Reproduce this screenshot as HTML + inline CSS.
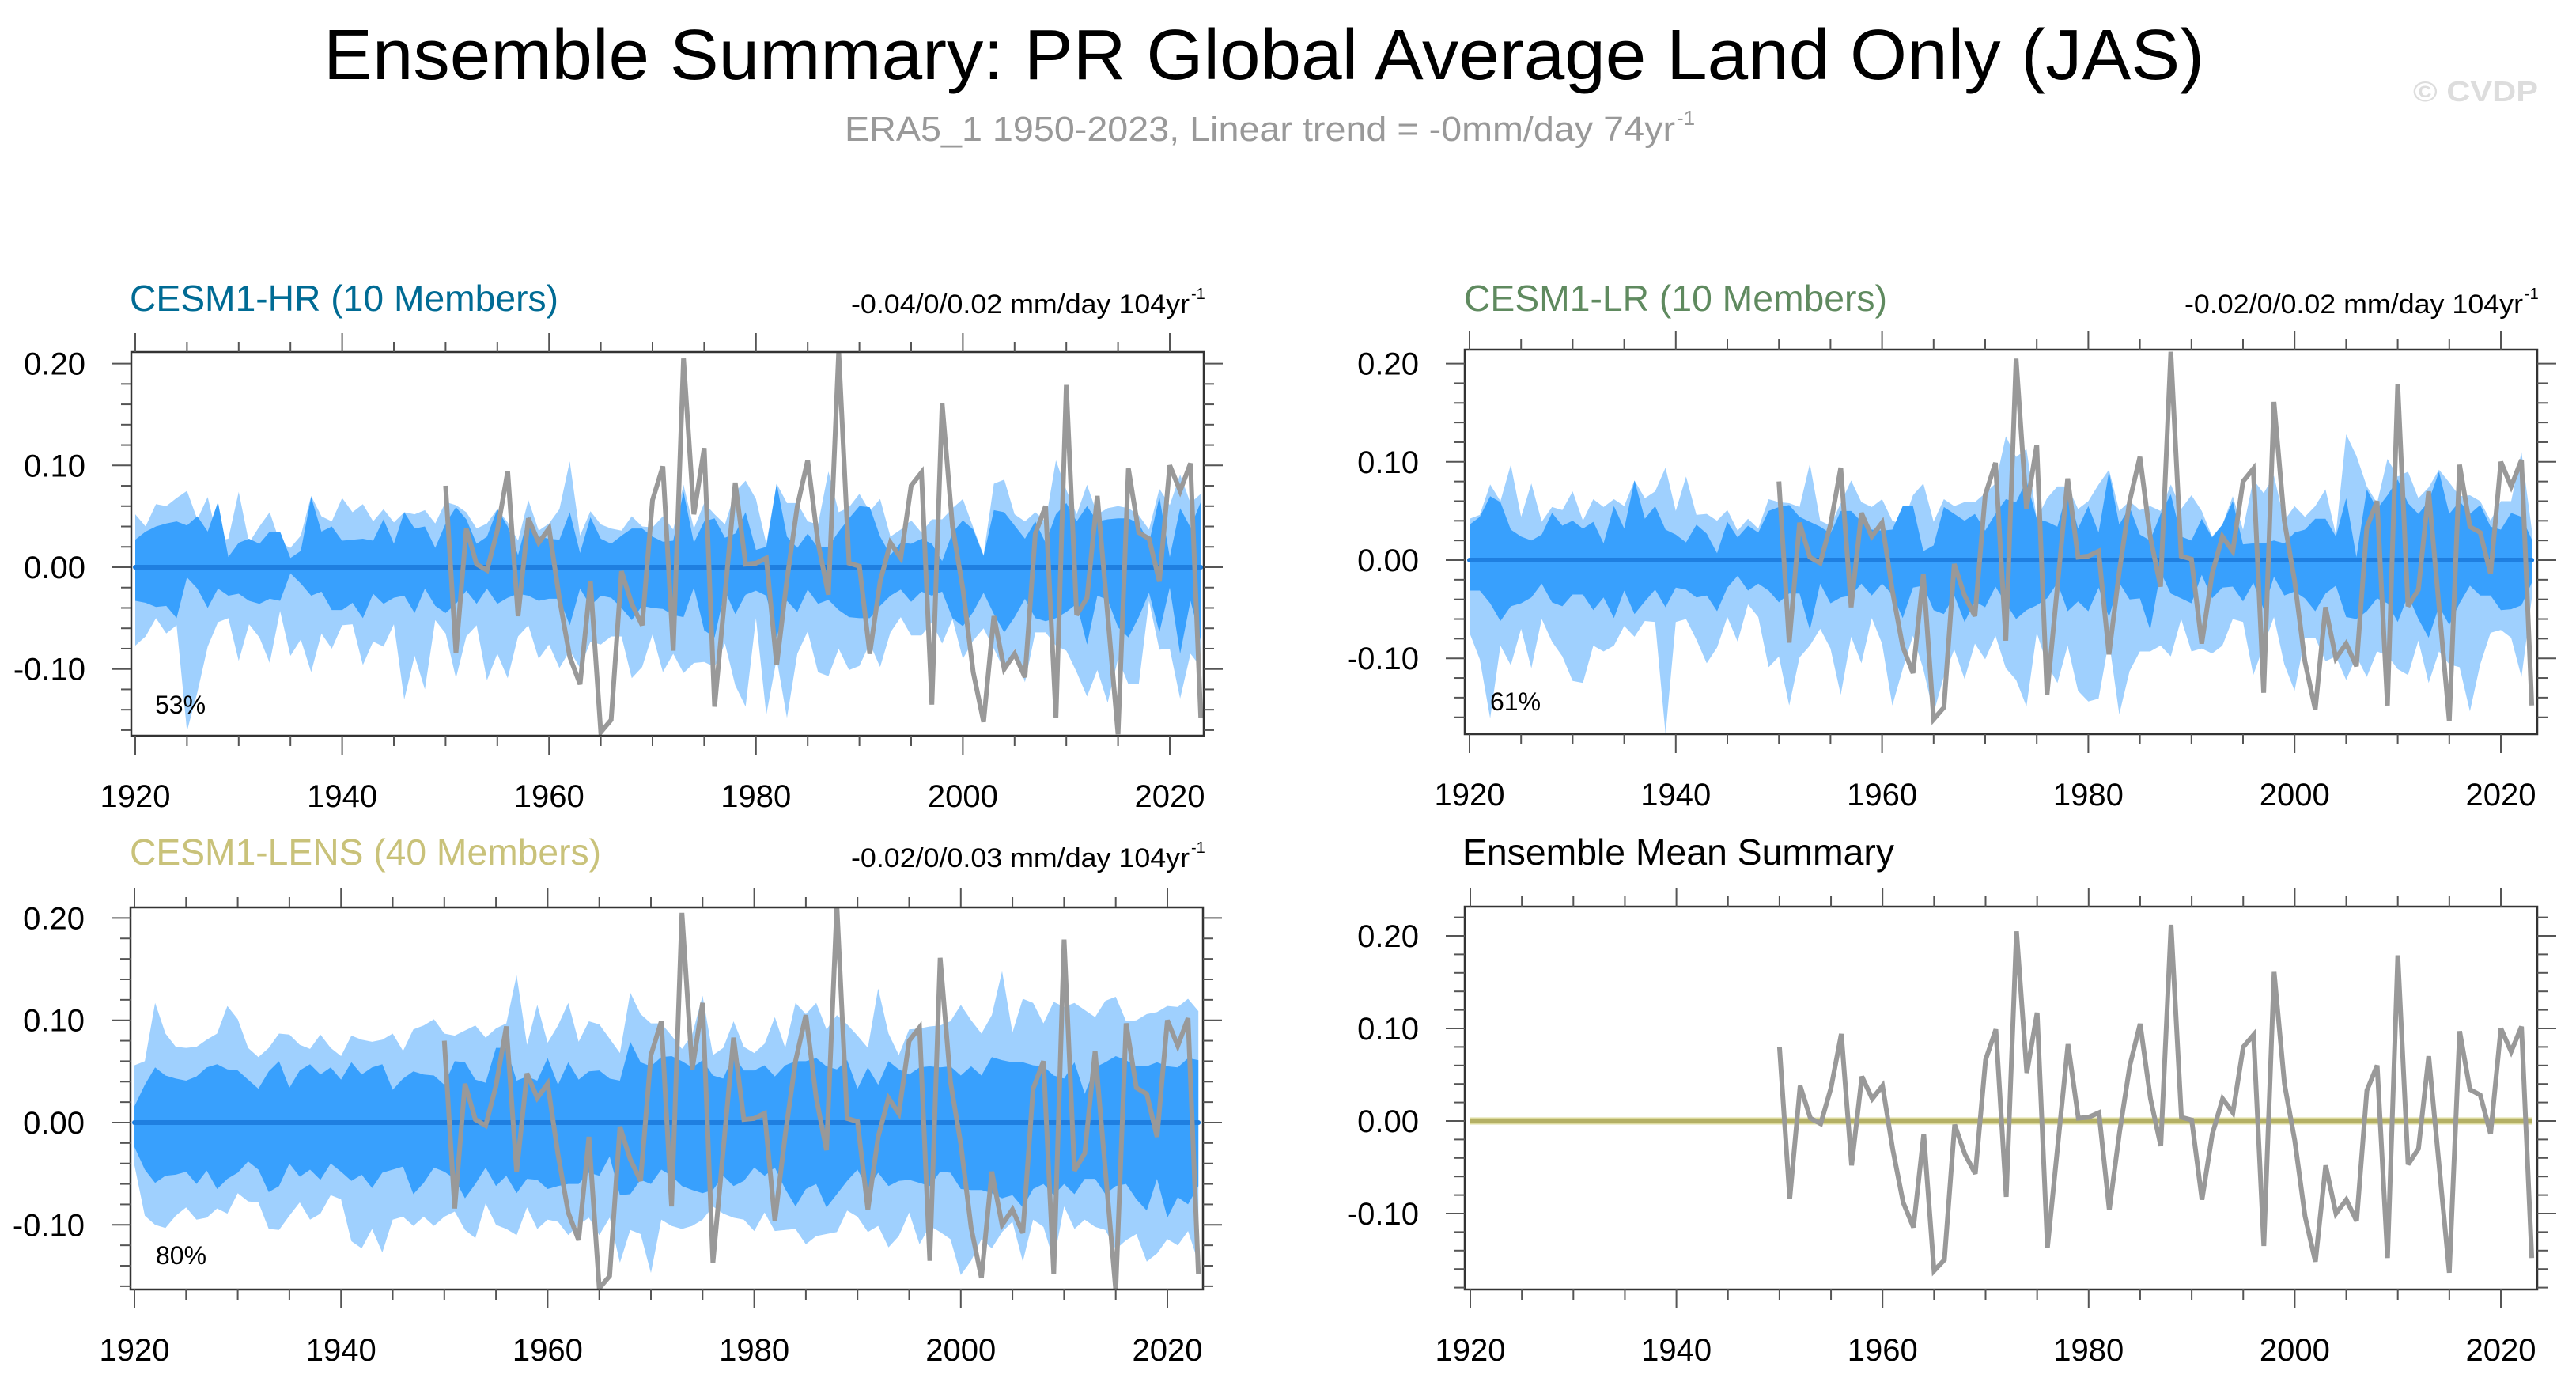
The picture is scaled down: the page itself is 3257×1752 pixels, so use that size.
<!DOCTYPE html>
<html><head><meta charset="utf-8"><title>Ensemble Summary</title>
<style>
html,body{margin:0;padding:0;background:#fff;}
svg{display:block;font-family:"Liberation Sans",Arial,sans-serif;}
</style></head>
<body>
<svg id="chart" width="3257" height="1752" viewBox="0 0 3257 1752" xmlns="http://www.w3.org/2000/svg">
<rect width="3257" height="1752" fill="#fff"/>
<text x="1598" y="100" font-size="90" text-anchor="middle" textLength="2378" lengthAdjust="spacingAndGlyphs" fill="#000">Ensemble Summary: PR Global Average Land Only (JAS)</text>
<text x="1068" y="178" font-size="44" fill="#999" textLength="1050" lengthAdjust="spacingAndGlyphs">ERA5_1 1950-2023, Linear trend = -0mm/day 74yr</text>
<text x="2120" y="158" font-size="26" fill="#999">-1</text>
<text x="3051" y="128" font-size="36" font-weight="bold" fill="#ddd" textLength="158" lengthAdjust="spacingAndGlyphs">© CVDP</text>

<text x="164" y="393" font-size="46" fill="#006b94" textLength="542" lengthAdjust="spacingAndGlyphs">CESM1-HR (10 Members)</text>
<text x="1076" y="396" font-size="34" fill="#000" textLength="428" lengthAdjust="spacingAndGlyphs">-0.04/0/0.02 mm/day 104yr</text>
<text x="1506" y="378" font-size="20" fill="#000">-1</text>

<text x="1851" y="393" font-size="46" fill="#5f8a5f" textLength="535" lengthAdjust="spacingAndGlyphs">CESM1-LR (10 Members)</text>
<text x="2762" y="396" font-size="34" fill="#000" textLength="428" lengthAdjust="spacingAndGlyphs">-0.02/0/0.02 mm/day 104yr</text>
<text x="3192" y="378" font-size="20" fill="#000">-1</text>

<text x="164" y="1093" font-size="46" fill="#c9c27a" textLength="596" lengthAdjust="spacingAndGlyphs">CESM1-LENS (40 Members)</text>
<text x="1076" y="1096" font-size="34" fill="#000" textLength="428" lengthAdjust="spacingAndGlyphs">-0.02/0/0.03 mm/day 104yr</text>
<text x="1506" y="1078" font-size="20" fill="#000">-1</text>

<text x="1849" y="1093" font-size="46" fill="#000" textLength="546" lengthAdjust="spacingAndGlyphs">Ensemble Mean Summary</text>

<g id="plots"></g>
</svg>
<script>
const startYear = 1920;
const obsStartYear = 1950;
const xTickLabels = ["1920","1940","1960","1980","2000","2020"];
const yTickLabels = ["0.20","0.10","0.00","-0.10"];
const yTickValues = [0.20, 0.10, 0.00, -0.10];
const pctLabels = ["53%","61%","80%"];
const meanValues = [0.0, 0.0];

const obs = [0.080,-0.084,0.038,0.003,-0.003,0.036,0.094,-0.048,0.048,0.024,
0.038,-0.031,-0.088,-0.115,-0.014,-0.162,-0.150,-0.004,-0.036,-0.057,
0.066,0.099,-0.082,0.205,0.052,0.117,-0.137,-0.027,0.083,0.003,
0.004,0.009,-0.096,-0.012,0.060,0.105,0.024,-0.027,0.212,0.004,
0.001,-0.085,-0.014,0.024,0.009,0.080,0.093,-0.135,0.161,0.040,
-0.021,-0.103,-0.152,-0.048,-0.100,-0.085,-0.108,0.033,0.060,-0.148,
0.179,-0.047,-0.030,0.070,-0.047,-0.164,0.097,0.034,0.028,-0.014,
0.100,0.075,0.102,-0.148];

const hrOutUp = [0.052,0.040,0.062,0.060,0.068,0.075,0.047,0.069,0.026,0.028,
0.074,0.024,0.040,0.054,0.024,0.019,0.031,0.070,0.050,0.045,
0.068,0.054,0.062,0.045,0.057,0.044,0.054,0.052,0.056,0.043,
0.064,0.061,0.054,0.038,0.043,0.057,0.044,0.026,0.066,0.036,
0.043,0.057,0.104,0.031,0.055,0.042,0.038,0.036,0.050,0.040,
0.039,0.050,0.037,0.081,0.038,0.063,0.052,0.042,0.074,0.085,
0.067,0.023,0.082,0.063,0.063,0.045,0.042,0.094,0.054,0.059,
0.072,0.055,0.067,0.030,0.037,0.046,0.034,0.047,0.047,0.058,
0.067,0.039,0.012,0.082,0.086,0.052,0.045,0.054,0.045,0.105,
0.076,0.052,0.081,0.052,0.058,0.060,0.058,0.051,0.037,0.077,
0.061,0.091,0.063,0.072];
const hrInUp = [0.027,0.035,0.040,0.043,0.045,0.041,0.050,0.035,0.064,0.010,
0.024,0.028,0.023,0.035,0.035,0.009,0.016,0.069,0.035,0.040,
0.026,0.027,0.028,0.026,0.047,0.023,0.054,0.038,0.040,0.019,
0.043,0.059,0.047,0.023,0.030,0.057,0.040,0.012,0.050,0.030,
0.028,0.027,0.054,0.014,0.049,0.028,0.023,0.031,0.038,0.038,
0.030,0.025,0.026,0.074,0.024,0.045,0.048,0.029,0.033,0.054,
0.017,0.020,0.082,0.030,0.019,0.033,0.019,0.020,0.035,0.048,
0.060,0.059,0.030,0.012,0.024,0.023,0.028,0.023,0.006,0.034,
0.046,0.037,0.011,0.056,0.054,0.041,0.028,0.045,0.024,0.052,
0.063,0.045,0.060,0.045,0.047,0.048,0.048,0.043,0.024,0.069,
0.010,0.058,0.039,0.064];
const hrInLo = [-0.033,-0.035,-0.039,-0.038,-0.050,-0.010,-0.021,-0.040,-0.021,-0.028,
-0.026,-0.033,-0.036,-0.031,-0.033,-0.006,-0.016,-0.028,-0.024,-0.042,
-0.042,-0.035,-0.050,-0.026,-0.036,-0.030,-0.028,-0.045,-0.021,-0.038,
-0.045,-0.036,-0.023,-0.036,-0.021,-0.036,-0.030,-0.026,-0.028,-0.033,
-0.031,-0.031,-0.057,-0.021,-0.038,-0.028,-0.030,-0.040,-0.052,-0.038,
-0.040,-0.041,-0.047,-0.049,-0.020,-0.062,-0.069,-0.023,-0.046,-0.027,
-0.023,-0.028,-0.069,-0.033,-0.044,-0.022,-0.036,-0.032,-0.042,-0.049,
-0.050,-0.050,-0.038,-0.028,-0.022,-0.034,-0.024,-0.028,-0.024,-0.050,
-0.058,-0.044,-0.025,-0.046,-0.064,-0.049,-0.031,-0.050,-0.053,-0.050,
-0.044,-0.036,-0.076,-0.028,-0.032,-0.059,-0.069,-0.049,-0.025,-0.064,
-0.020,-0.085,-0.033,-0.072];
const hrOutLo = [-0.077,-0.068,-0.050,-0.065,-0.057,-0.161,-0.123,-0.078,-0.054,-0.050,
-0.092,-0.056,-0.069,-0.094,-0.043,-0.087,-0.071,-0.103,-0.065,-0.080,
-0.057,-0.056,-0.096,-0.073,-0.078,-0.056,-0.130,-0.087,-0.120,-0.052,
-0.065,-0.109,-0.068,-0.057,-0.111,-0.085,-0.109,-0.068,-0.057,-0.090,
-0.076,-0.099,-0.082,-0.099,-0.073,-0.076,-0.068,-0.068,-0.109,-0.098,
-0.066,-0.103,-0.085,-0.104,-0.094,-0.093,-0.098,-0.075,-0.116,-0.137,
-0.050,-0.145,-0.090,-0.148,-0.085,-0.063,-0.103,-0.107,-0.080,-0.101,
-0.097,-0.075,-0.098,-0.064,-0.049,-0.067,-0.067,-0.054,-0.075,-0.051,
-0.090,-0.072,-0.060,-0.080,-0.101,-0.080,-0.113,-0.064,-0.064,-0.077,
-0.082,-0.103,-0.127,-0.101,-0.133,-0.090,-0.115,-0.115,-0.033,-0.081,
-0.080,-0.129,-0.085,-0.098];

const lrOutUp = [0.042,0.046,0.077,0.060,0.097,0.044,0.078,0.039,0.054,0.051,
0.070,0.040,0.062,0.054,0.062,0.055,0.081,0.063,0.070,0.094,
0.050,0.085,0.046,0.047,0.040,0.051,0.030,0.042,0.032,0.062,
0.059,0.058,0.054,0.098,0.040,0.035,0.058,0.081,0.059,0.054,
0.062,0.040,0.036,0.066,0.078,0.039,0.062,0.055,0.059,0.059,
0.068,0.078,0.126,0.105,0.113,0.042,0.063,0.075,0.075,0.052,
0.060,0.077,0.092,0.050,0.060,0.051,0.055,0.050,0.077,0.052,
0.066,0.050,0.024,0.036,0.065,0.031,0.082,0.068,0.086,0.040,
0.055,0.044,0.055,0.072,0.026,0.128,0.106,0.075,0.058,0.103,
0.085,0.090,0.063,0.074,0.092,0.079,0.065,0.066,0.060,0.040,
0.060,0.060,0.110,0.031];
const lrInUp = [0.036,0.044,0.065,0.059,0.031,0.024,0.020,0.026,0.048,0.035,
0.040,0.032,0.039,0.017,0.055,0.032,0.081,0.042,0.055,0.031,
0.026,0.018,0.036,0.027,0.007,0.039,0.023,0.035,0.028,0.050,
0.054,0.056,0.044,0.039,0.034,0.027,0.050,0.050,0.039,0.031,
0.030,0.031,0.055,0.055,0.009,0.015,0.054,0.047,0.040,0.047,
0.030,0.047,0.062,0.059,0.081,0.042,0.039,0.034,0.072,0.032,
0.055,0.028,0.090,0.036,0.054,0.026,0.020,0.047,0.067,0.024,
0.020,0.042,0.023,0.036,0.060,0.016,0.017,0.017,0.020,0.017,
0.028,0.031,0.042,0.042,0.024,0.063,0.003,0.072,0.052,0.066,
0.082,0.058,0.047,0.060,0.090,0.047,0.060,0.047,0.056,0.034,
0.031,0.048,0.044,0.021];
const lrInLo = [-0.031,-0.031,-0.044,-0.062,-0.047,-0.044,-0.038,-0.024,-0.043,-0.047,
-0.035,-0.035,-0.051,-0.038,-0.059,-0.031,-0.055,-0.042,-0.030,-0.048,
-0.028,-0.030,-0.038,-0.036,-0.052,-0.028,-0.016,-0.031,-0.024,-0.031,
-0.043,-0.034,-0.034,-0.071,-0.024,-0.044,-0.038,-0.036,-0.024,-0.036,
-0.024,-0.035,-0.059,-0.028,-0.026,-0.051,-0.055,-0.036,-0.063,-0.042,
-0.048,-0.027,-0.044,-0.060,-0.051,-0.046,-0.039,-0.023,-0.052,-0.042,
-0.052,-0.028,-0.058,-0.023,-0.040,-0.039,-0.071,-0.012,-0.034,-0.039,
-0.044,-0.015,-0.039,-0.028,-0.027,-0.042,-0.023,-0.050,-0.017,-0.036,
-0.032,-0.039,-0.052,-0.034,-0.026,-0.058,-0.060,-0.052,-0.039,-0.044,
-0.063,-0.036,-0.060,-0.079,-0.047,-0.066,-0.044,-0.026,-0.036,-0.036,
-0.051,-0.050,-0.046,-0.023];
const lrOutLo = [-0.074,-0.101,-0.161,-0.087,-0.107,-0.070,-0.110,-0.060,-0.083,-0.098,
-0.123,-0.125,-0.087,-0.093,-0.087,-0.067,-0.078,-0.062,-0.063,-0.177,
-0.063,-0.060,-0.081,-0.105,-0.089,-0.058,-0.083,-0.045,-0.058,-0.109,
-0.098,-0.148,-0.099,-0.087,-0.070,-0.090,-0.137,-0.078,-0.105,-0.059,
-0.085,-0.148,-0.111,-0.077,-0.111,-0.156,-0.118,-0.091,-0.121,-0.085,
-0.101,-0.077,-0.110,-0.122,-0.149,-0.074,-0.106,-0.125,-0.087,-0.133,
-0.144,-0.141,-0.082,-0.157,-0.113,-0.093,-0.093,-0.087,-0.098,-0.060,
-0.093,-0.090,-0.095,-0.087,-0.060,-0.063,-0.117,-0.087,-0.058,-0.106,
-0.133,-0.079,-0.079,-0.103,-0.098,-0.122,-0.098,-0.119,-0.093,-0.097,
-0.111,-0.117,-0.082,-0.125,-0.093,-0.106,-0.109,-0.154,-0.106,-0.074,
-0.071,-0.079,-0.119,-0.039];

const lensOutUp = [0.056,0.060,0.117,0.087,0.074,0.073,0.074,0.081,0.087,0.114,
0.101,0.073,0.064,0.073,0.087,0.086,0.076,0.072,0.086,0.073,
0.065,0.085,0.081,0.079,0.081,0.087,0.070,0.091,0.095,0.101,
0.087,0.085,0.090,0.095,0.083,0.092,0.097,0.144,0.076,0.115,
0.078,0.095,0.117,0.079,0.099,0.096,0.082,0.068,0.127,0.106,
0.097,0.097,0.085,0.072,0.086,0.124,0.066,0.073,0.099,0.074,
0.068,0.077,0.103,0.073,0.117,0.106,0.117,0.091,0.105,0.096,
0.085,0.073,0.131,0.087,0.066,0.091,0.092,0.094,0.095,0.099,
0.115,0.100,0.087,0.105,0.148,0.088,0.121,0.117,0.097,0.118,
0.113,0.117,0.110,0.103,0.119,0.123,0.099,0.100,0.106,0.108,
0.114,0.113,0.121,0.109];
const lensInUp = [0.016,0.037,0.054,0.046,0.043,0.041,0.045,0.054,0.057,0.052,
0.051,0.042,0.033,0.050,0.060,0.034,0.051,0.057,0.047,0.054,
0.042,0.059,0.047,0.054,0.057,0.032,0.043,0.050,0.047,0.046,
0.037,0.060,0.059,0.042,0.039,0.073,0.073,0.041,0.045,0.041,
0.063,0.037,0.059,0.042,0.050,0.051,0.043,0.041,0.079,0.059,
0.055,0.064,0.065,0.060,0.054,0.061,0.046,0.043,0.066,0.051,
0.051,0.056,0.045,0.056,0.060,0.060,0.063,0.055,0.052,0.061,
0.033,0.054,0.037,0.060,0.052,0.047,0.054,0.055,0.054,0.055,
0.046,0.055,0.046,0.064,0.061,0.059,0.059,0.056,0.055,0.046,
0.043,0.059,0.028,0.054,0.059,0.065,0.061,0.055,0.055,0.059,
0.055,0.054,0.063,0.061];
const lensInLo = [-0.024,-0.046,-0.059,-0.052,-0.051,-0.048,-0.060,-0.047,-0.065,-0.055,
-0.049,-0.038,-0.046,-0.068,-0.062,-0.040,-0.053,-0.046,-0.056,-0.040,
-0.048,-0.057,-0.051,-0.064,-0.049,-0.046,-0.043,-0.070,-0.059,-0.044,
-0.048,-0.055,-0.074,-0.060,-0.044,-0.062,-0.052,-0.069,-0.055,-0.056,
-0.065,-0.062,-0.060,-0.060,-0.049,-0.052,-0.033,-0.071,-0.070,-0.056,
-0.060,-0.046,-0.052,-0.062,-0.066,-0.069,-0.066,-0.052,-0.062,-0.057,
-0.044,-0.052,-0.044,-0.065,-0.082,-0.065,-0.060,-0.083,-0.070,-0.057,
-0.046,-0.065,-0.049,-0.062,-0.057,-0.056,-0.059,-0.062,-0.048,-0.049,
-0.065,-0.066,-0.066,-0.069,-0.074,-0.071,-0.083,-0.065,-0.060,-0.071,
-0.060,-0.070,-0.055,-0.055,-0.070,-0.062,-0.060,-0.075,-0.086,-0.055,
-0.093,-0.073,-0.080,-0.062];
const lensOutLo = [-0.042,-0.091,-0.100,-0.103,-0.091,-0.083,-0.095,-0.093,-0.084,-0.089,
-0.069,-0.077,-0.078,-0.104,-0.105,-0.091,-0.078,-0.095,-0.089,-0.071,
-0.075,-0.116,-0.123,-0.104,-0.127,-0.095,-0.092,-0.101,-0.092,-0.101,
-0.092,-0.087,-0.105,-0.113,-0.079,-0.100,-0.104,-0.110,-0.083,-0.104,
-0.095,-0.097,-0.110,-0.100,-0.093,-0.110,-0.093,-0.137,-0.105,-0.109,
-0.147,-0.095,-0.101,-0.104,-0.101,-0.095,-0.082,-0.089,-0.093,-0.095,
-0.106,-0.088,-0.106,-0.105,-0.104,-0.119,-0.111,-0.109,-0.107,-0.086,
-0.092,-0.107,-0.101,-0.122,-0.111,-0.088,-0.119,-0.101,-0.107,-0.114,
-0.149,-0.135,-0.114,-0.123,-0.107,-0.097,-0.136,-0.095,-0.102,-0.135,
-0.082,-0.104,-0.095,-0.102,-0.105,-0.124,-0.115,-0.109,-0.136,-0.128,
-0.114,-0.120,-0.106,-0.137];

const NS = "http://www.w3.org/2000/svg";
const root = document.getElementById("plots");
function mk(tag, attrs, parent) {
  const e = document.createElementNS(NS, tag);
  for (const k in attrs) e.setAttribute(k, attrs[k]);
  (parent || root).appendChild(e);
  return e;
}

const panels = [
  {key:"hr", x0:166, x1:1522, y0:445, y1:930, xa:171, xb:13.08, zero:717, scale:1287,
   bands:[hrOutUp,hrInUp,hrInLo,hrOutLo], pct:0, pctX:196, pctY:902},
  {key:"lr", x0:1852, x1:3208, y0:442, y1:928, xa:1858, xb:13.04, zero:708, scale:1242,
   bands:[lrOutUp,lrInUp,lrInLo,lrOutLo], pct:1, pctX:1884, pctY:898},
  {key:"lens", x0:165, x1:1521, y0:1147, y1:1630, xa:170, xb:13.06, zero:1419, scale:1293,
   bands:[lensOutUp,lensInUp,lensInLo,lensOutLo], pct:2, pctX:197, pctY:1598},
  {key:"mean", x0:1852, x1:3208, y0:1146, y1:1630, xa:1859, xb:13.03, zero:1417, scale:1170,
   bands:null}
];

panels.forEach(function(p){
  const xs = function(yr){ return p.xa + (yr - startYear) * p.xb; };
  const ys = function(v){ return p.zero - v * p.scale; };
  const g = mk("g", {});
  
  
  const clipId = "clip-" + p.key;
  const cp = mk("clipPath", {id: clipId}, g);
  mk("rect", {x:p.x0, y:p.y0, width:p.x1-p.x0, height:p.y1-p.y0}, cp);
  const pg = mk("g", {"clip-path":"url(#"+clipId+")"}, g);

  if (p.bands) {
    const outUp = p.bands[0], inUp = p.bands[1], inLo = p.bands[2], outLo = p.bands[3];
    function bandPath(up, lo) {
      let d = "";
      for (let i = 0; i < up.length; i++) d += (i ? "L" : "M") + xs(startYear+i).toFixed(1) + "," + ys(up[i]).toFixed(1);
      for (let i = lo.length - 1; i >= 0; i--) d += "L" + xs(startYear+i).toFixed(1) + "," + ys(lo[i]).toFixed(1);
      return d + "Z";
    }
    const outer = mk("path", {d: bandPath(outUp, outLo), fill:"#9fd0fe"}, pg);
    
    
    const inner = mk("path", {d: bandPath(inUp, inLo), fill:"#38a0fd"}, pg);
    
    
    const ml = mk("line", {x1:xs(startYear), x2:xs(startYear+outUp.length-1), y1:ys(meanValues[0]), y2:ys(meanValues[1]), stroke:"#1f7fe0", "stroke-width":6, "stroke-linecap":"round"}, pg);
    
    
  } else {
    const ml = mk("line", {x1:xs(startYear), x2:xs(2023), y1:ys(meanValues[0]), y2:ys(meanValues[1]), stroke:"#dedca0", "stroke-width":9}, pg);
    
    
    const ml2 = mk("line", {x1:xs(startYear), x2:xs(2023), y1:ys(meanValues[0]), y2:ys(meanValues[1]), stroke:"#b4b065", "stroke-width":4}, pg);
    
    
  }

  let od = "";
  for (let i = 0; i < obs.length; i++) od += (i ? "L" : "M") + xs(obsStartYear+i).toFixed(1) + "," + ys(obs[i]).toFixed(1);
  const ol = mk("path", {d: od, fill:"none", stroke:"#999", "stroke-width":6, "stroke-linejoin":"miter", "stroke-miterlimit":3}, pg);
  
  

  const box = mk("rect", {x:p.x0, y:p.y0, width:p.x1-p.x0, height:p.y1-p.y0, fill:"none", stroke:"#333", "stroke-width":2.5}, g);
  
  

  // x ticks
  for (let yr = 1920; yr <= 2020; yr += 5) {
    const major = (yr % 20 === 0);
    const L = major ? 24 : 13;
    const x = xs(yr);
    const t1 = mk("line", {x1:x, x2:x, y1:p.y1, y2:p.y1+L, stroke:"#555", "stroke-width":2}, g);
    
    
    const t2 = mk("line", {x1:x, x2:x, y1:p.y0, y2:p.y0-L, stroke:"#555", "stroke-width":2}, g);
    
    
  }
  xTickLabels.forEach(function(lab){
    const t = mk("text", {x:xs(Number(lab)), y:p.y1+90, "font-size":40, "text-anchor":"middle", fill:"#000"}, g);
    t.textContent = lab;
    
    
  });
  // y ticks
  const topV = (p.zero - p.y0) / p.scale, botV = (p.zero - p.y1) / p.scale;
  for (let k = Math.ceil(botV / 0.02 - 1e-6); k <= Math.floor(topV / 0.02 + 1e-6); k++) {
    const v = k * 0.02;
    const major = (k % 5 === 0);
    const L = major ? 24 : 13;
    const y = ys(v);
    const a = mk("line", {x1:p.x0, x2:p.x0-L, y1:y, y2:y, stroke:"#555", "stroke-width":2}, g);
    
    
    const b = mk("line", {x1:p.x1, x2:p.x1+L, y1:y, y2:y, stroke:"#555", "stroke-width":2}, g);
    
    
  }
  yTickLabels.forEach(function(lab, i){
    const t = mk("text", {x:p.x0-58, y:ys(yTickValues[i])+14, "font-size":40, "text-anchor":"end", fill:"#000"}, g);
    t.textContent = lab;
    
    
  });
  if (p.pct !== undefined) {
    const t = mk("text", {x:p.pctX, y:p.pctY, "font-size":32, fill:"#000"}, g);
    t.textContent = pctLabels[p.pct];
    
    
  }
});
</script>
</body></html>
